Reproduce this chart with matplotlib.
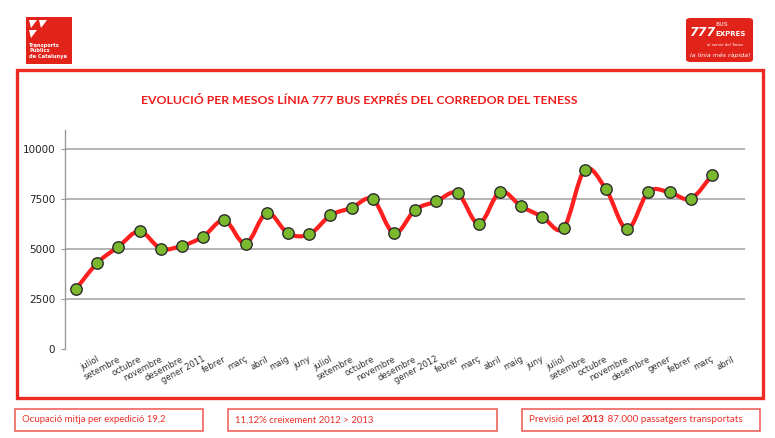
import matplotlib
matplotlib.use("Agg")
import matplotlib.pyplot as plt
from matplotlib.path import Path
from matplotlib.patches import PathPatch, Rectangle, FancyBboxPatch, Polygon
import numpy as np

months = ["juliol", "setembre", "octubre", "novembre", "desembre", "gener 2011",
          "febrer", "març", "abril", "maig", "juny", "juliol", "setembre",
          "octubre", "novembre", "desembre", "gener 2012", "febrer", "març",
          "abril", "maig", "juny", "juliol", "setembre", "octubre", "novembre",
          "desembre", "gener", "febrer", "març", "abril"]
passengers = [3000, 4300, 5120, 5890, 5020, 5160, 5620, 6440, 5260, 6810,
              5780, 5730, 6680, 7060, 7490, 5780, 6960, 7380, 7790, 6260,
              7860, 7140, 6610, 6040, 8960, 7990, 5990, 7860, 7830, 7510, 8700]
yticks = [0, 2500, 5000, 7500, 10000]

title = "EVOLUCIÓ PER MESOS LÍNIA 777 BUS EXPRÉS DEL CORREDOR DEL TENESS"
box1 = "Ocupació mitja per expedició 19,2"
box2 = "11,12% creixement 2012 > 2013"
box3_parts = [("Previsió pel ", "normal"), ("2013", "bold"),
              (" 87.000 passatgers transportats", "normal")]

W, H = 775, 438
fig = plt.figure(figsize=(W / 100, H / 100), dpi=100)
fig.patch.set_facecolor("white")

def fx(px):
    return px / W

def fy(py):
    return 1 - py / H

RED = "#ee2a24"

# main frame
fig.patches.append(Rectangle((fx(17), fy(398)), fx(763) - fx(17), fy(70) - fy(398),
                             transform=fig.transFigure, fill=False,
                             edgecolor=RED, linewidth=2.4, zorder=0))

# title
fig.text(fx(359), fy(100), title, color="#ee1c1c", fontsize=8.8,
         fontweight="bold", family="Lato", ha="center", va="center")

# axes
ax = fig.add_axes([fx(65), fy(349), fx(745) - fx(65), fy(130) - fy(349)])
n = len(passengers)
x = np.arange(n)
y = np.array(passengers, dtype=float)

# smooth curve (cubic bezier through the data points)
t = 1 / 6
verts = [(x[0], y[0])]
codes = [Path.MOVETO]
for i in range(n - 1):
    p0 = np.array([x[max(i - 1, 0)], y[max(i - 1, 0)]])
    p1 = np.array([x[i], y[i]])
    p2 = np.array([x[i + 1], y[i + 1]])
    p3 = np.array([x[min(i + 2, n - 1)], y[min(i + 2, n - 1)]])
    c1 = p1 + (p2 - p0) * t
    c2 = p2 - (p3 - p1) * t
    verts += [tuple(c1), tuple(c2), tuple(p2)]
    codes += [Path.CURVE4] * 3
ax.add_patch(PathPatch(Path(verts, codes), facecolor="none",
                       edgecolor="#ff1f1f", linewidth=3.0, zorder=3,
                       capstyle="round", joinstyle="round"))
ax.plot(x, y, linestyle="none", marker="o", markersize=8.2,
        markerfacecolor="#7cb82e", markeredgecolor="#2b2b2b",
        markeredgewidth=1.0, zorder=4)

ax.set_xlim(-0.52, 31.56)
ax.set_ylim(0, 10950)
ax.set_yticks(yticks)
ax.set_yticklabels([str(v) for v in yticks], fontsize=7.5, color="#222222")
for v in yticks[1:]:
    ax.axhline(v, color="#a8a8a8", linewidth=1.2, zorder=1)
ax.set_xticks(np.arange(1, n + 1) - 0.05)
ax.set_xticklabels(months, rotation=28, ha="right", rotation_mode="anchor",
                   fontsize=6, color="#333333")
ax.tick_params(axis="x", length=0, pad=4)
ax.tick_params(axis="y", length=3, color="#999999", pad=4)
for s in ["top", "right", "bottom"]:
    ax.spines[s].set_visible(False)
ax.spines["left"].set_color("#999999")
ax.spines["left"].set_linewidth(1.0)
ax.set_facecolor("none")

# bottom boxes
def box(x0, x1, y0, y1):
    fig.patches.append(Rectangle((fx(x0), fy(y1)), fx(x1) - fx(x0), fy(y0) - fy(y1),
                                 transform=fig.transFigure, fill=False,
                                 edgecolor="#ee5550", linewidth=1.1))

box(15, 203, 409, 431)
box(228, 497, 409, 431)
box(522, 760, 409, 431)
BOXTXT = "#e8302a"
fig.text(fx(22), fy(420), box1, color=BOXTXT, fontsize=6.9, family="Lato",
         va="center", ha="left")
fig.text(fx(235), fy(420), box2, color=BOXTXT, fontsize=6.9, family="Lato",
         va="center", ha="left")
renderer = fig.canvas.get_renderer()
cur = 529
for txt, wt in box3_parts:
    tt = fig.text(fx(cur), fy(420), txt, color=BOXTXT, fontsize=7.1,
                  family="Lato", fontweight=wt, va="center", ha="left")
    bb = tt.get_window_extent(renderer)
    cur += bb.width

# left logo
fig.patches.append(Rectangle((fx(26), fy(64)), fx(72) - fx(26), fy(17) - fy(64),
                             transform=fig.transFigure, facecolor="#e2231a",
                             edgecolor="none"))
for tri in [[(29, 20), (37, 20), (31, 28)], [(39, 20), (47, 20), (41, 28)],
            [(29, 30), (37, 30), (31, 38)]]:
    fig.patches.append(Polygon([(fx(a), fy(b)) for a, b in tri],
                               transform=fig.transFigure, facecolor="white",
                               edgecolor="none"))
fig.text(fx(29), fy(51), "Transports\nPúblics\nde Catalunya", color="white",
         fontsize=3.7, fontweight="bold", va="center", ha="left",
         linespacing=1.15)

# right logo
fig.patches.append(FancyBboxPatch((fx(686), fy(62)), fx(753) - fx(686), fy(18) - fy(62),
                                  boxstyle="round,pad=0,rounding_size=0.006",
                                  transform=fig.transFigure, facecolor="#e2231a",
                                  edgecolor="none"))
fig.text(fx(689), fy(32), "777", color="white", fontsize=9, fontweight="bold",
         style="italic", va="center", ha="left")
fig.text(fx(716), fy(24), "BUS", color="#f6b0aa", fontsize=4, fontweight="bold",
         va="center", ha="left")
fig.text(fx(715), fy(34), "EXPRES", color="white", fontsize=5, fontweight="bold",
         va="center", ha="left")
fig.text(fx(725), fy(45), "al servei del Tenes", color="white", fontsize=2.8,
         va="center", ha="center")
fig.text(fx(720), fy(55), "la línia més ràpida!", color="white", fontsize=4.5,
         style="italic", va="center", ha="center")

fig.savefig("out.png", dpi=100, facecolor="white")
